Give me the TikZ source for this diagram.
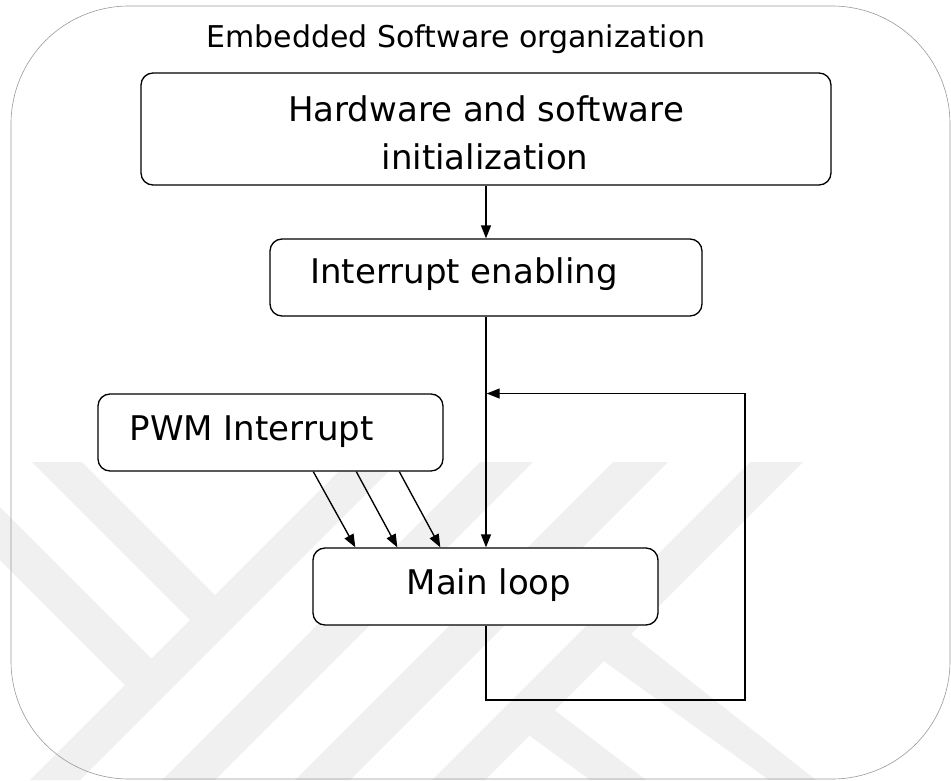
\documentclass[tikz,border=0pt]{standalone}
\usepackage{fontspec}
\setmainfont{DejaVu Sans}
\usetikzlibrary{arrows.meta,calc}
\begin{document}
\begin{tikzpicture}[x=1pt,y=-1pt,
  wm/.style={fill=black!6, draw=none},
  frm/.style={draw=black!40, line width=0.6pt, rounded corners=118pt},
  blk/.style={draw=black, line width=1.35pt, fill=white, rounded corners=12pt, inner sep=0pt},
  lbl/.style={font=\fontsize{34}{48}\selectfont, inner sep=0pt, anchor=base},
  ttl/.style={font=\fontsize{30}{36}\selectfont, inner sep=0pt, anchor=base},
  con/.style={draw=black, line width=1.35pt},
  arr/.style={con, -{Triangle[length=13pt,width=10pt]}}]
\useasboundingbox (0,0) rectangle (951,780);
% faint watermark
\begin{scope}
  \clip (0,462) rectangle (951,780);
  \fill[wm] (32,462) -- (82,462) -- (227.5,607.5) -- (202.5,632.5) -- cycle;
  \fill[wm] (0,507) -- (164,671) -- (137.5,697.5) -- (0,560) -- cycle;
  \fill[wm] (348,462) -- (398,462) -- (80,780) -- (30,780) -- cycle;
  \fill[wm] (480,462) -- (533,462) -- (215,780) -- (162,780) -- cycle;
  \fill[wm] (613,462) -- (668,462) -- (350,780) -- (295,780) -- cycle;
  \fill[wm] (750,462) -- (803,462) -- (485,780) -- (432,780) -- cycle;
  \fill[wm] (617,623) -- (816,780) -- (769,780) -- (589,650.5) -- cycle;
  \fill[wm] (548,705) -- (646,780) -- (590,780) -- (522,730) -- cycle;
\end{scope}
% outer frame
\draw[frm] (11,6) rectangle (950,779);
% title
\node[ttl] (title) at (456,47) {Embedded Software organization};
% boxes
\node[blk, minimum width=690pt, minimum height=112pt] (hw) at (486,129) {};
\node[lbl] (hwa) at (486,121) {Hardware and software};
\node[lbl] (hwb) at (485,169) {initialization};
\node[blk, minimum width=432pt, minimum height=77pt] (ie) at (486,277.5) {};
\node[lbl] (iet) at (464,283) {Interrupt enabling};
\node[blk, minimum width=345pt, minimum height=77pt] (pwm) at (270.5,432.5) {};
\node[lbl] (pwmt) at (251.5,440) {PWM Interrupt};
\node[blk, minimum width=345pt, minimum height=77pt] (ml) at (485.5,586.5) {};
\node[lbl] (mlt) at (489,594.5) {Main loop};
% connectors
\draw[arr] (hw.south) -- (ie.north);
\draw[arr] (ie.south) -- (ie.south |- ml.north);
\coordinate (lb) at (745,700);
\coordinate (lt) at (745,393.5);
\coordinate (jn) at (486.7,393.5);
\draw[arr] (ie.south |- ml.south) |- (lb) -- (lt) -- (jn);
\draw[arr] ($(pwm.south west)+(216,0)$) -- ($(ml.north west)+(43,0)$);
\draw[arr] ($(pwm.south west)+(259,0)$) -- ($(ml.north west)+(85,0)$);
\draw[arr] ($(pwm.south west)+(302,0)$) -- ($(ml.north west)+(128,0)$);
\end{tikzpicture}
\end{document}
